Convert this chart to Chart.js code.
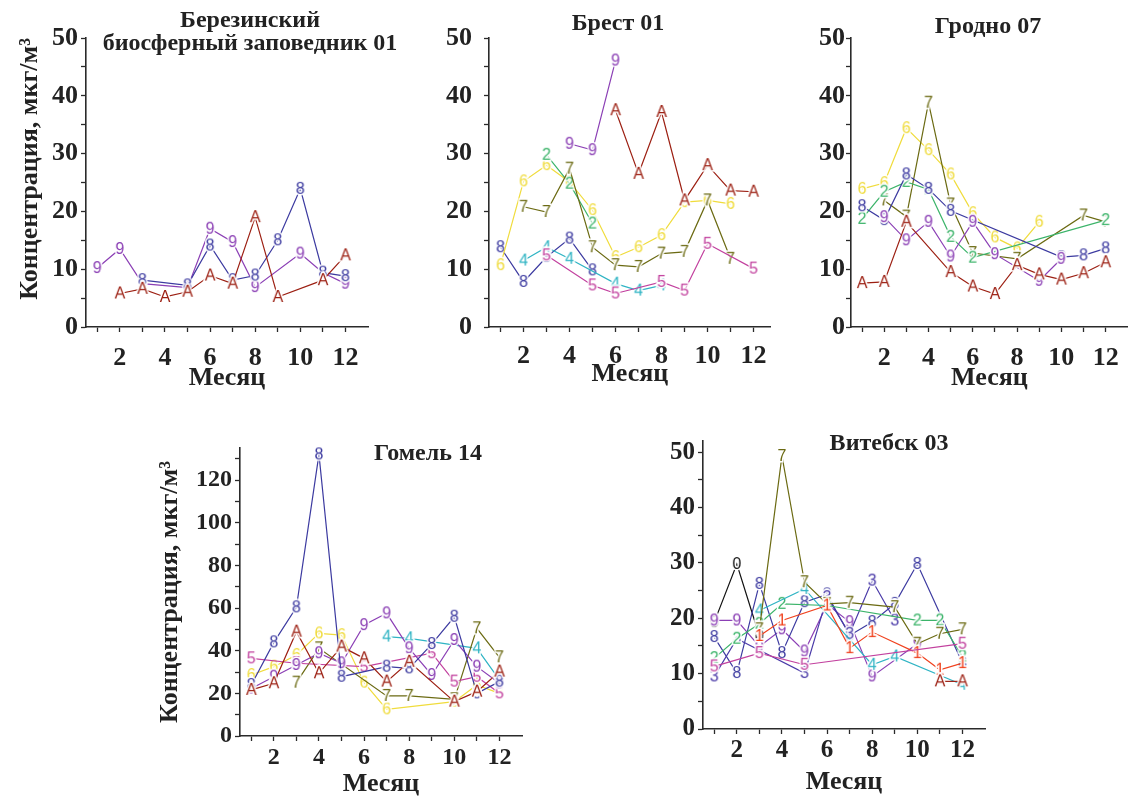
<!DOCTYPE html>
<html>
<head>
<meta charset="utf-8">
<script src="https://cdn.jsdelivr.net/npm/chart.js@4"></script>
<style>
  body { margin: 0; background: #fff; width: 1137px; height: 805px; position: relative; overflow: hidden; }
  canvas { position: absolute; }
  .ttl { position: absolute; font-family: "Liberation Serif", serif; font-size: 24px; font-weight: bold; color: #222;
         white-space: nowrap; transform: translate(-50%, -50%); line-height: 23px; text-align: center; }
</style>
</head>
<body>
<canvas id="p1" width="380" height="395" style="left:0px;top:0px"></canvas>
<canvas id="p2" width="380" height="395" style="left:400px;top:0px"></canvas>
<canvas id="p3" width="357" height="395" style="left:780px;top:0px"></canvas>
<canvas id="p4" width="400" height="400" style="left:140px;top:400px"></canvas>
<canvas id="p5" width="400" height="400" style="left:600px;top:400px"></canvas>

<div class="ttl" style="left:250px;top:31px">Березинский<br>биосферный заповедник 01</div>
<div class="ttl" style="left:618px;top:22px">Брест 01</div>
<div class="ttl" style="left:988px;top:25px">Гродно 07</div>
<div class="ttl" style="left:428px;top:452px">Гомель 14</div>
<div class="ttl" style="left:889px;top:442px">Витебск 03</div>

<script>
// months and values
const months = [1, 2, 3, 4, 5, 6, 7, 8, 9, 10, 11, 12];

// Березинский биосферный заповедник 01
const ber_A = [null, 5.8, 6.6, 5.2, 6.1, 8.9, 7.5, 19.0, 5.2, null, 8.1, 12.4];
const ber_8 = [null, null, 8.1, null, 7.2, 14.1, 8.1, 8.9, 15.0, 23.9, 9.4, 8.8];
const ber_9 = [10.2, 13.5, 7.5, null, 6.8, 17.0, 14.7, 6.9, null, 12.7, 9.4, 7.5];

// Брест 01
const br_8 = [13.8, 7.8, 12.1, 15.3, 9.8, null, null, null, null, null, null, null];
const br_6 = [10.7, 25.2, 28.0, 25.1, 20.2, 12.1, 13.8, 15.9, 21.6, 21.9, 21.3, null];
const br_2 = [null, null, 29.8, 24.8, 17.9, null, null, null, null, null, null, null];
const br_7 = [null, 20.8, 19.9, 27.4, 13.8, 10.7, 10.4, 12.7, 13.0, 21.9, 11.8, null];
const br_4 = [null, 11.5, 13.8, 11.8, null, 7.5, 6.3, 7.2, null, null, null, null];
const br_5 = [null, null, 12.4, null, 7.2, 5.8, null, 7.8, 6.3, 14.4, null, 10.1];
const br_9 = [null, null, null, 31.7, 30.6, 46.1, null, null, null, null, null, null];
const br_A = [null, null, null, null, null, 37.5, 26.5, 37.2, 21.9, 28.0, 23.6, 23.4];

// Гродно 07
const gr_A = [7.6, 7.8, 18.2, null, 9.5, 7.0, 5.7, 10.7, 9.1, 8.2, 9.3, 11.2];
const gr_6 = [23.9, 24.9, 34.4, 30.6, 26.4, 19.7, 15.5, 13.6, 18.2, null, null, null];
const gr_2 = [18.7, 23.4, 25.1, 23.8, 15.6, 12.0, null, null, null, null, null, 18.5];
const gr_8 = [20.9, 18.5, 26.4, 23.9, 20.1, null, null, null, null, 12.1, 12.4, 13.6];
const gr_9 = [null, 19.0, 15.0, 18.2, 12.2, 18.2, 12.6, null, 8.0, 11.8, null, null];
const gr_7 = [null, 21.9, 19.1, 38.8, 21.2, 12.8, null, 11.8, null, null, 19.3, 18.2];

// Гомель 14
const go_8 = [23.9, 43.9, 60.3, 132, 27.8, null, 32.5, 31.7, 43.1, 55.9, 20.0, 25.5];
const go_A = [21.6, 24.7, 48.9, 29.4, 41.9, 36.4, 25.5, 34.8, null, 16.1, 20.8, 30.2];
const go_6 = [28.6, 32.5, 38.0, 48.1, 47.3, 25.0, 12.5, null, null, 16.1, 23.9, 20.0];
const go_7 = [null, null, 25.0, 41.1, null, null, 18.8, 18.8, null, 17.2, 50.5, 36.9];
const go_9 = [22.3, 27.8, 33.3, 38.8, 34.1, 52.0, 57.5, 41.1, 28.6, 45.0, 32.5, 24.7];
const go_5 = [36.4, null, 34.1, null, null, 32.5, null, null, 38.8, 25.5, 27.8, 20.0];
const go_4 = [null, null, null, null, null, null, 46.6, 45.8, null, null, 41.1, 26.3];

// Витебск 03
const vi_0 = [19.3, 29.8, 16.8, null, null, null, null, null, null, null, null, null];
const vi_9 = [19.6, 19.6, 14.9, 18.0, 14.0, 22.5, 19.3, 9.5, null, 15.4, null, null];
const vi_8 = [16.6, 10.1, 26.2, 13.7, 22.9, 24.3, 16.9, 19.3, 22.6, 29.8, null, 11.9];
const vi_3 = [9.5, 16.3, null, null, 10.1, 23.8, 17.2, 26.8, 19.6, null, null, null];
const vi_2 = [12.8, 16.3, 19.0, 22.6, null, 22.3, null, null, null, 19.6, 19.6, 13.1];
const vi_4 = [null, null, 21.4, null, 25.3, null, null, 11.6, 13.1, null, null, 8.0];
const vi_7 = [null, null, 18.0, 49.3, 26.5, 22.6, 22.8, null, 22.0, 15.4, 17.2, 18.0];
const vi_1 = [null, null, 16.8, 19.6, null, 22.3, 14.6, 17.5, null, 13.7, 10.7, 11.9];
const vi_5 = [11.3, null, 13.7, null, 11.6, null, null, null, null, null, null, 15.4];
const vi_A = [null, null, null, null, null, null, null, null, null, null, 8.6, 8.6];

const colors = {
    'A': '#9c1f12', '9': '#8b3fb5', '8': '#3c3aa0', '6': '#f0dc3c', '2': '#3cb46a',
    '7': '#6b6a12', '4': '#2fb4c4', '5': '#c2409e', '3': '#4a3aa8', '0': '#111111', '1': '#f0421e'
};

const serif = '"Liberation Serif", "Times New Roman", serif';
const axisColor = '#2a2a2a';

// character marker used instead of a point
function glyph(ch) {
    let c = document.createElement('canvas');
    c.width = 16;
    c.height = 18;
    let g = c.getContext('2d');
    g.font = '16px "Liberation Sans", sans-serif';
    g.textAlign = 'center';
    g.textBaseline = 'middle';
    g.lineWidth = 3;
    g.strokeStyle = '#fff';
    g.strokeText(ch, 8, 9.5);
    g.fillStyle = colors[ch];
    g.fillText(ch, 8, 9.5);
    return c;
}

function series(ch, values) {
    let data = [];
    for (let i = 0; i < months.length; i++) {
        if (values[i] !== null) data.push({ x: months[i], y: values[i] });
    }
    return {
        label: ch,
        data,
        borderColor: colors[ch],
        borderWidth: 1.2,
        pointStyle: glyph(ch),
        pointRadius: 8,
        tension: 0,
        spanGaps: true,
        clip: false
    };
}

function panel(id, p) {
    new Chart(document.getElementById(id), {
        type: 'line',
        data: { datasets: p.sets },
        options: {
            responsive: false,
            animation: false,
            layout: { padding: { left: 0, top: p.top, right: p.right, bottom: 0 } },
            plugins: { legend: { display: false }, tooltip: { enabled: false } },
            scales: {
                x: {
                    type: 'linear',
                    min: 0.5,
                    max: p.xMax,
                    afterFit(scale) { scale.height = p.xHeight; },
                    afterBuildTicks(scale) { scale.ticks = months.map(v => ({ value: v })); },
                    ticks: {
                        autoSkip: false, maxRotation: 0, padding: p.xPad, color: '#222',
                        font: { family: serif, size: p.tickSize, weight: 'bold' },
                        callback: v => (v % 2 === 0 ? v : '')
                    },
                    grid: { drawOnChartArea: false, tickLength: 5, tickColor: axisColor, tickWidth: 1.3 },
                    border: { color: axisColor, width: 1.6 },
                    title: {
                        display: true, text: 'Месяц', color: '#222',
                        font: { family: serif, size: 26, weight: 'bold' },
                        padding: { top: 0, bottom: p.xTitlePad }
                    }
                },
                y: {
                    min: 0,
                    max: p.yMax,
                    afterFit(scale) { scale.width = p.yWidth; },
                    afterBuildTicks(scale) {
                        let t = [];
                        for (let v = 0; v <= p.yMax; v += p.yMinor) t.push({ value: v });
                        scale.ticks = t;
                    },
                    ticks: {
                        autoSkip: false, padding: p.yPad, color: '#222',
                        font: { family: serif, size: p.tickSize, weight: 'bold' },
                        callback: v => (v % p.yMajor === 0 ? v : '')
                    },
                    grid: { drawOnChartArea: false, tickLength: 5, tickColor: axisColor, tickWidth: 1.3 },
                    border: { color: axisColor, width: 1.6 },
                    title: {
                        display: p.yTitle, text: 'Концентрация, мкг/м³', color: '#222', align: p.yAlign,
                        font: { family: serif, size: 26, weight: 'bold' },
                        padding: { top: 15, bottom: 0 }
                    }
                }
            }
        }
    });
}

panel('p1', {
    sets: [series('A', ber_A), series('8', ber_8), series('9', ber_9)],
    top: 38, right: 12, yWidth: 86, xHeight: 68, xMax: 13, yMax: 50, yMinor: 5, yMajor: 10,
    yPad: 3, xPad: 11, tickSize: 26, xTitlePad: 1, yTitle: true, yAlign: 'end'
});
panel('p2', {
    sets: [series('A', br_A), series('9', br_9), series('5', br_5), series('4', br_4),
           series('7', br_7), series('2', br_2), series('6', br_6), series('8', br_8)],
    top: 38, right: 3, yWidth: 89, xHeight: 68, xMax: 12.75, yMax: 50, yMinor: 5, yMajor: 10,
    yPad: 12, xPad: 9, tickSize: 26, xTitlePad: 5, yTitle: false, yAlign: 'center'
});
panel('p3', {
    sets: [series('A', gr_A), series('9', gr_9), series('8', gr_8), series('2', gr_2),
           series('7', gr_7), series('6', gr_6)],
    top: 38, right: 4, yWidth: 71, xHeight: 68, xMax: 13, yMax: 50, yMinor: 5, yMajor: 10,
    yPad: 1, xPad: 11, tickSize: 26, xTitlePad: 1, yTitle: false, yAlign: 'center'
});
panel('p4', {
    sets: [series('A', go_A), series('8', go_8), series('9', go_9), series('5', go_5),
           series('7', go_7), series('6', go_6), series('4', go_4)],
    top: 48, right: 18, yWidth: 100, xHeight: 64, xMax: 13, yMax: 135, yMinor: 10, yMajor: 20,
    yPad: 3, xPad: 2, tickSize: 24, xTitlePad: 0, yTitle: true, yAlign: 'center'
});
panel('p5', {
    sets: [series('A', vi_A), series('5', vi_5), series('1', vi_1), series('7', vi_7),
           series('4', vi_4), series('2', vi_2), series('3', vi_3), series('8', vi_8),
           series('9', vi_9), series('0', vi_0)],
    top: 41, right: 15, yWidth: 103, xHeight: 71, xMax: 13, yMax: 52, yMinor: 5, yMajor: 10,
    yPad: 3, xPad: 2, tickSize: 25, xTitlePad: 2, yTitle: false, yAlign: 'center'
});
</script>
</body>
</html>
